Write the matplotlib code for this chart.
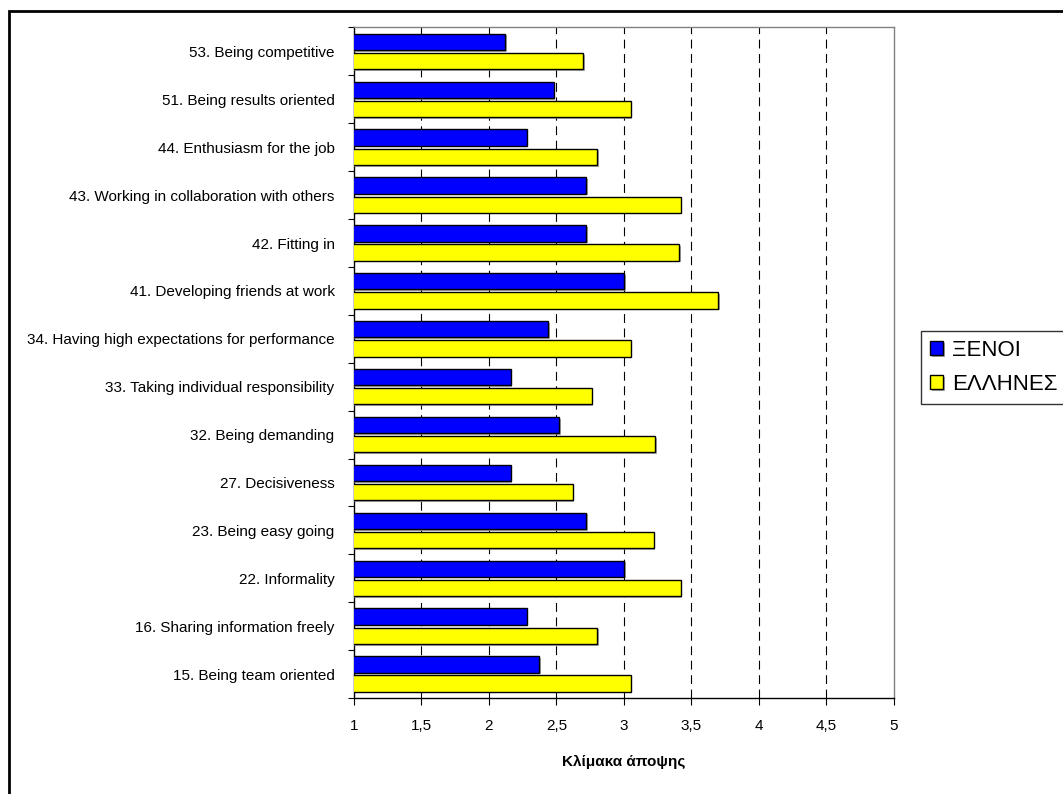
import numpy as np
import matplotlib.pyplot as plt
import matplotlib.patheffects as pe
from matplotlib.patches import Rectangle

# δεδομένα: μέση τιμή ανά ερώτηση
labels = ['53. Being competitive', '51. Being results oriented', '44. Enthusiasm for the job',
          '43. Working in collaboration with others', '42. Fitting in', '41. Developing friends at work',
          '34. Having high expectations for performance', '33. Taking individual responsibility',
          '32. Being demanding', '27. Decisiveness', '23. Being easy going', '22. Informality',
          '16. Sharing information freely', '15. Being team oriented']
xenoi = [2.12, 2.48, 2.28, 2.72, 2.72, 3.00, 2.44, 2.16, 2.52, 2.16, 2.72, 3.00, 2.28, 2.37]
ellines = [2.70, 3.05, 2.80, 3.42, 3.41, 3.70, 3.05, 2.76, 3.23, 2.62, 3.22, 3.42, 2.80, 3.05]
series_names = ['ΞΕΝΟΙ', 'ΕΛΛΗΝΕΣ']
xticks = [1, 1.5, 2, 2.5, 3, 3.5, 4, 4.5, 5]
xlabel = 'Κλίμακα άποψης'

plt.rcParams['font.family'] = ['Liberation Sans', 'DejaVu Sans']

fig = plt.figure(figsize=(10.63, 7.94), dpi=100)
ax = fig.add_axes([0.333, 0.1209, 0.508, 0.8445])

y = np.arange(len(labels))
h = 0.34
shadow = [pe.SimplePatchShadow(offset=(1.2, -1.2), shadow_rgbFace='#888888', alpha=0.7), pe.Normal()]
b1 = ax.barh(y - 0.2, xenoi, height=h, left=0, color='#0000FF', edgecolor='black', linewidth=1.0,
             label=series_names[0], zorder=3)
b2 = ax.barh(y + 0.2, ellines, height=h, left=0, color='#FFFF00', edgecolor='black', linewidth=1.0,
             label=series_names[1], zorder=3)
for bars in (b1, b2):
    for p in bars:
        p.set_path_effects(shadow)

ax.set_xlim(1, 5)
ax.set_ylim(len(labels) - 0.5, -0.5)

# άξονας x
ax.set_xticks(xticks)
ax.set_xticklabels([str(t).replace('.', ',') for t in xticks], fontsize=11)
ax.set_xlabel(xlabel, fontsize=11, fontweight='bold', labelpad=16)
ax.tick_params(axis='x', direction='out', length=5, width=0.8, pad=10)

# άξονας y: γραμμές στα όρια κατηγοριών, ετικέτες στο κέντρο
ax.set_yticks(np.arange(len(labels) + 1) - 0.5)
ax.set_yticklabels([])
ax.set_yticks(y, minor=True)
ax.set_yticklabels(labels, minor=True, fontsize=11)
ax.tick_params(axis='y', which='major', direction='out', length=4, width=0.8)
ax.tick_params(axis='y', which='minor', length=0, pad=14)

# διακεκομμένες γραμμές πλέγματος
for t in xticks[1:-1]:
    ax.axvline(t, color='black', linewidth=0.8, dashes=(8, 5), zorder=1)

for s in ['left', 'bottom']:
    ax.spines[s].set_color('black')
    ax.spines[s].set_linewidth(1.0)
for s in ['top', 'right']:
    ax.spines[s].set_color('#808080')
    ax.spines[s].set_linewidth(1.0)

leg = fig.legend(handles=[b1, b2], labels=series_names, loc='upper left',
                 bbox_to_anchor=(921 / 1063, 1 - 331 / 794), borderaxespad=0,
                 fontsize=16, frameon=True, fancybox=False, handlelength=0.6, handleheight=0.6,
                 handletextpad=0.4, labelspacing=0.6, borderpad=0.4)
leg.get_frame().set_edgecolor('black')
leg.get_frame().set_linewidth(1.0)

# πλαίσιο γύρω από το γράφημα (ανοιχτό δεξιά και κάτω)
top = 1 - 11 / 794
fig.patches.append(Rectangle((9 / 1063, -0.1), 1.2, top + 0.1,
                             transform=fig.transFigure, fill=False, edgecolor='black', linewidth=2.0))

fig.savefig('out.png', dpi=100)
